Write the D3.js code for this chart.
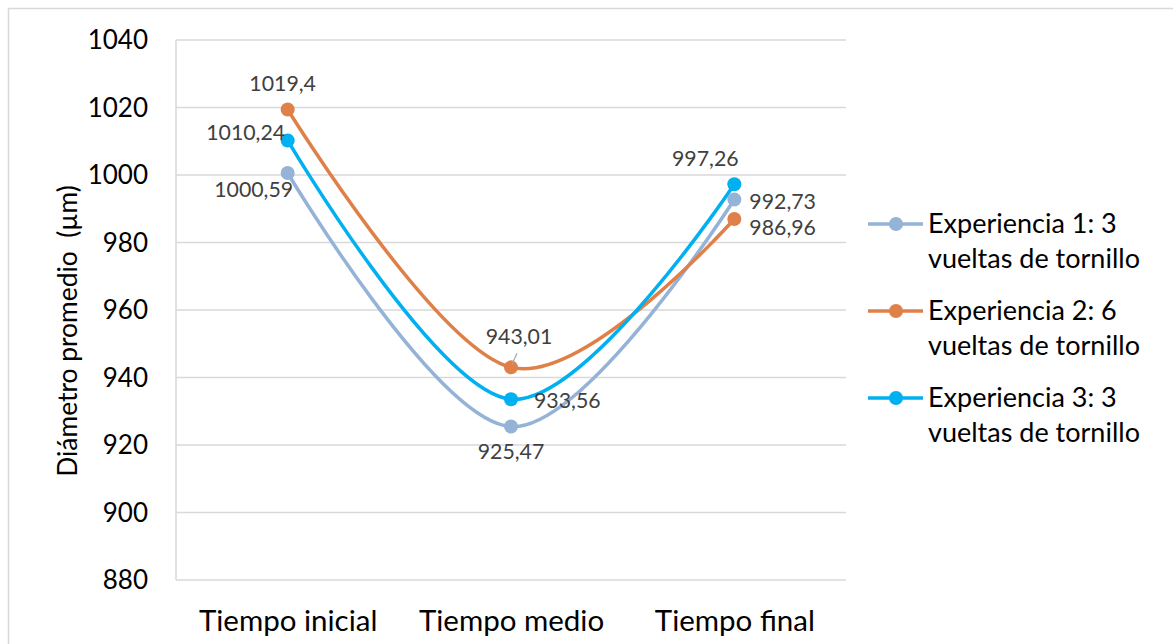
<!DOCTYPE html>
<html>
<head>
<meta charset="utf-8">
<script src="https://cdn.jsdelivr.net/npm/d3@7"></script>
<style>
  html, body { margin: 0; padding: 0; background: #fff; }
  svg { display: block; }
  text { font-family: Lato, "Open Sans", sans-serif; }
</style>
</head>
<body>
<script>
// ---- Data ----
const categories = ["Tiempo inicial", "Tiempo medio", "Tiempo final"];
const seriesNames = [
  ["Experiencia 1: 3", "vueltas de tornillo"],
  ["Experiencia 2: 6", "vueltas de tornillo"],
  ["Experiencia 3: 3", "vueltas de tornillo"]
];
const exp1 = [1000.59, 925.47, 992.73];
const exp2 = [1019.4, 943.01, 986.96];
const exp3 = [1010.24, 933.56, 997.26];
const yTicks = [880, 900, 920, 940, 960, 980, 1000, 1020, 1040];
const yTitle = "Diámetro promedio  (µm)";

// ---- Styling / label placement (not data) ----
const colors = ["#95B3D7", "#DF8048", "#00B0F0"];
// label offsets [dx, dy] relative to point, and anchor
const labelPlacement = [
  [[-34, 17, "middle"], [0, 25, "middle"], [15, 2, "start"]],
  [[-5, -26, "middle"], [8, -31, "middle"], [15, 9, "start"]],
  [[-42, -8, "middle"], [23, 1, "start"], [-29, -26, "middle"]]
];

const W = 1173, H = 644;
const M = { left: 176, right: 846, top: 40, bottom: 580 };

const svg = d3.select("body").append("svg").attr("width", W).attr("height", H);

// outer border
svg.append("rect").attr("x", 8.5).attr("y", 8.5).attr("width", 1200).attr("height", 700)
  .attr("fill", "none").attr("stroke", "#D9D9D9").attr("stroke-width", 1.5);

const x = d3.scalePoint().domain(categories).range([M.left, M.right]).padding(0.5);
const y = d3.scaleLinear().domain([880, 1040]).range([M.bottom, M.top]);

// gridlines
svg.append("g").selectAll("line").data(yTicks).join("line")
  .attr("x1", M.left).attr("x2", M.right)
  .attr("y1", d => y(d)).attr("y2", d => y(d))
  .attr("stroke", "#D9D9D9").attr("stroke-width", 1.5);
// left plot edge
svg.append("line").attr("x1", M.left).attr("x2", M.left).attr("y1", M.top).attr("y2", M.bottom)
  .attr("stroke", "#D9D9D9").attr("stroke-width", 1.5);

// y axis
const yAxis = d3.axisLeft(y).tickValues(yTicks).tickFormat(d3.format("d")).tickSize(0).tickPadding(28);
const gy = svg.append("g").attr("transform", `translate(${M.left},0)`).call(yAxis);
gy.select(".domain").remove();
gy.selectAll("text").attr("font-size", 26).attr("fill", "#000").attr("font-family", "Lato, sans-serif").attr("dy", "0.34em");

// x axis
const xAxis = d3.axisBottom(x).tickSize(0).tickPadding(30);
const gx = svg.append("g").attr("transform", `translate(0,${M.bottom})`).call(xAxis);
gx.select(".domain").remove();
gx.selectAll("text").attr("font-size", 29.5).attr("fill", "#000").attr("font-family", "Lato, sans-serif");

// y title
svg.append("text")
  .attr("transform", `translate(77,331) rotate(-90)`)
  .attr("text-anchor", "middle")
  .attr("font-size", 26.4).attr("fill", "#000")
  .style("white-space", "pre")
  .text(yTitle);

const allSeries = [exp1, exp2, exp3];
const line = d3.line().x((d, i) => x(categories[i])).y(d => y(d)).curve(d3.curveCardinal.tension(0));

// lines
allSeries.forEach((s, k) => {
  svg.append("path").datum(s).attr("d", line)
    .attr("fill", "none").attr("stroke", colors[k]).attr("stroke-width", 3.5)
    .attr("stroke-linecap", "round");
});
// markers
allSeries.forEach((s, k) => {
  svg.append("g").selectAll("circle").data(s).join("circle")
    .attr("cx", (d, i) => x(categories[i])).attr("cy", d => y(d)).attr("r", 7)
    .attr("fill", colors[k]);
});

// leader line for 943,01
svg.append("line")
  .attr("x1", x(categories[1]) + 6).attr("y1", y(exp2[1]) - 14)
  .attr("x2", x(categories[1]) + 1).attr("y2", y(exp2[1]) - 3)
  .attr("stroke", "#A6A6A6").attr("stroke-width", 1.2);

// data labels
const fmt = v => String(v).replace(".", ",");
allSeries.forEach((s, k) => {
  svg.append("g").selectAll("text").data(s).join("text")
    .attr("x", (d, i) => x(categories[i]) + labelPlacement[k][i][0])
    .attr("y", (d, i) => y(d) + labelPlacement[k][i][1])
    .attr("dy", "0.35em")
    .attr("text-anchor", (d, i) => labelPlacement[k][i][2])
    .attr("font-size", 21.3).attr("fill", "#404040")
    .text(d => fmt(d));
});

// legend
const leg = svg.append("g");
seriesNames.forEach((nm, k) => {
  const cy = 224 + k * 87;
  leg.append("line").attr("x1", 868).attr("x2", 923).attr("y1", cy).attr("y2", cy)
    .attr("stroke", colors[k]).attr("stroke-width", 3.5);
  leg.append("circle").attr("cx", 896).attr("cy", cy).attr("r", 7).attr("fill", colors[k]);
  nm.forEach((t, j) => {
    leg.append("text").attr("x", 928).attr("y", cy + j * 35).attr("dy", "0.35em")
      .attr("font-size", 27).attr("fill", "#000").text(t);
  });
});
</script>
</body>
</html>
